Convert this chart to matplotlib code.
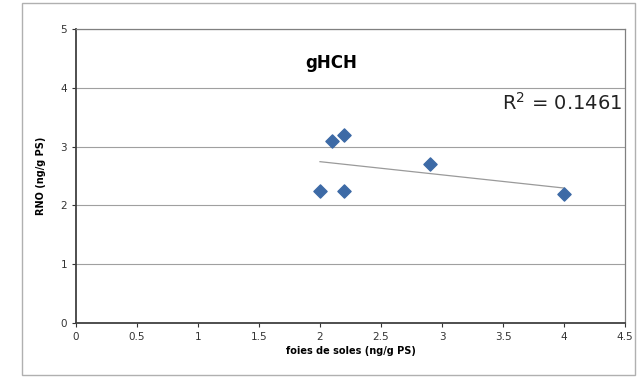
import numpy as np
import matplotlib.pyplot as plt
from matplotlib.patches import Rectangle

# data
x_soles = [2.0, 2.1, 2.2, 2.2, 2.9, 4.0]
y_rno = [2.25, 3.1, 3.2, 2.25, 2.7, 2.2]
r2_label = "R$^2$ = 0.1461"

fig = plt.figure(figsize=(6.42, 3.77), dpi=100)
# outer chart frame
fig.patches.append(Rectangle((22 / 642, 2 / 377), 613 / 642, 372 / 377,
                             transform=fig.transFigure, fill=False,
                             ec="#b0b0b0", lw=1.0))
ax = fig.add_axes([76 / 642, 54 / 377, 549 / 642, 294 / 377])

ax.scatter(x_soles, y_rno, marker="D", s=45, color="#3d6aa6", zorder=3)

# linear trend line
k, b = np.polyfit(x_soles, y_rno, 1)
xs = np.array([min(x_soles), max(x_soles)])
ax.plot(xs, k * xs + b, color="#9a9a9a", lw=0.9, zorder=2)

ax.set_xlim(0, 4.5)
ax.set_ylim(0, 5)
ax.set_xticks(np.arange(0, 4.51, 0.5))
ax.set_xticklabels(["0", "0.5", "1", "1.5", "2", "2.5", "3", "3.5", "4", "4.5"])
ax.set_yticks(range(0, 6))
ax.grid(axis="y", color="#a0a0a0", lw=0.8)
ax.set_axisbelow(True)
ax.tick_params(labelsize=7.5, colors="#333333", length=3, width=0.8)
for side in ["left", "bottom"]:
    ax.spines[side].set_color("#404040")
    ax.spines[side].set_linewidth(1.3)
for side in ["top", "right"]:
    ax.spines[side].set_color("#808080")
    ax.spines[side].set_linewidth(0.9)

ax.set_xlabel("foies de soles (ng/g PS)", fontsize=7, fontweight="bold", labelpad=3)
ax.set_ylabel("RNO (ng/g PS)", fontsize=7, fontweight="bold", labelpad=10)
ax.text(0.465, 0.885, "gHCH", transform=ax.transAxes, fontsize=12,
        fontweight="bold", ha="center", va="center")
ax.text(0.995, 0.75, r2_label, transform=ax.transAxes, fontsize=14,
        ha="right", va="center", color="#222222")

plt.savefig("out.png", dpi=100)
